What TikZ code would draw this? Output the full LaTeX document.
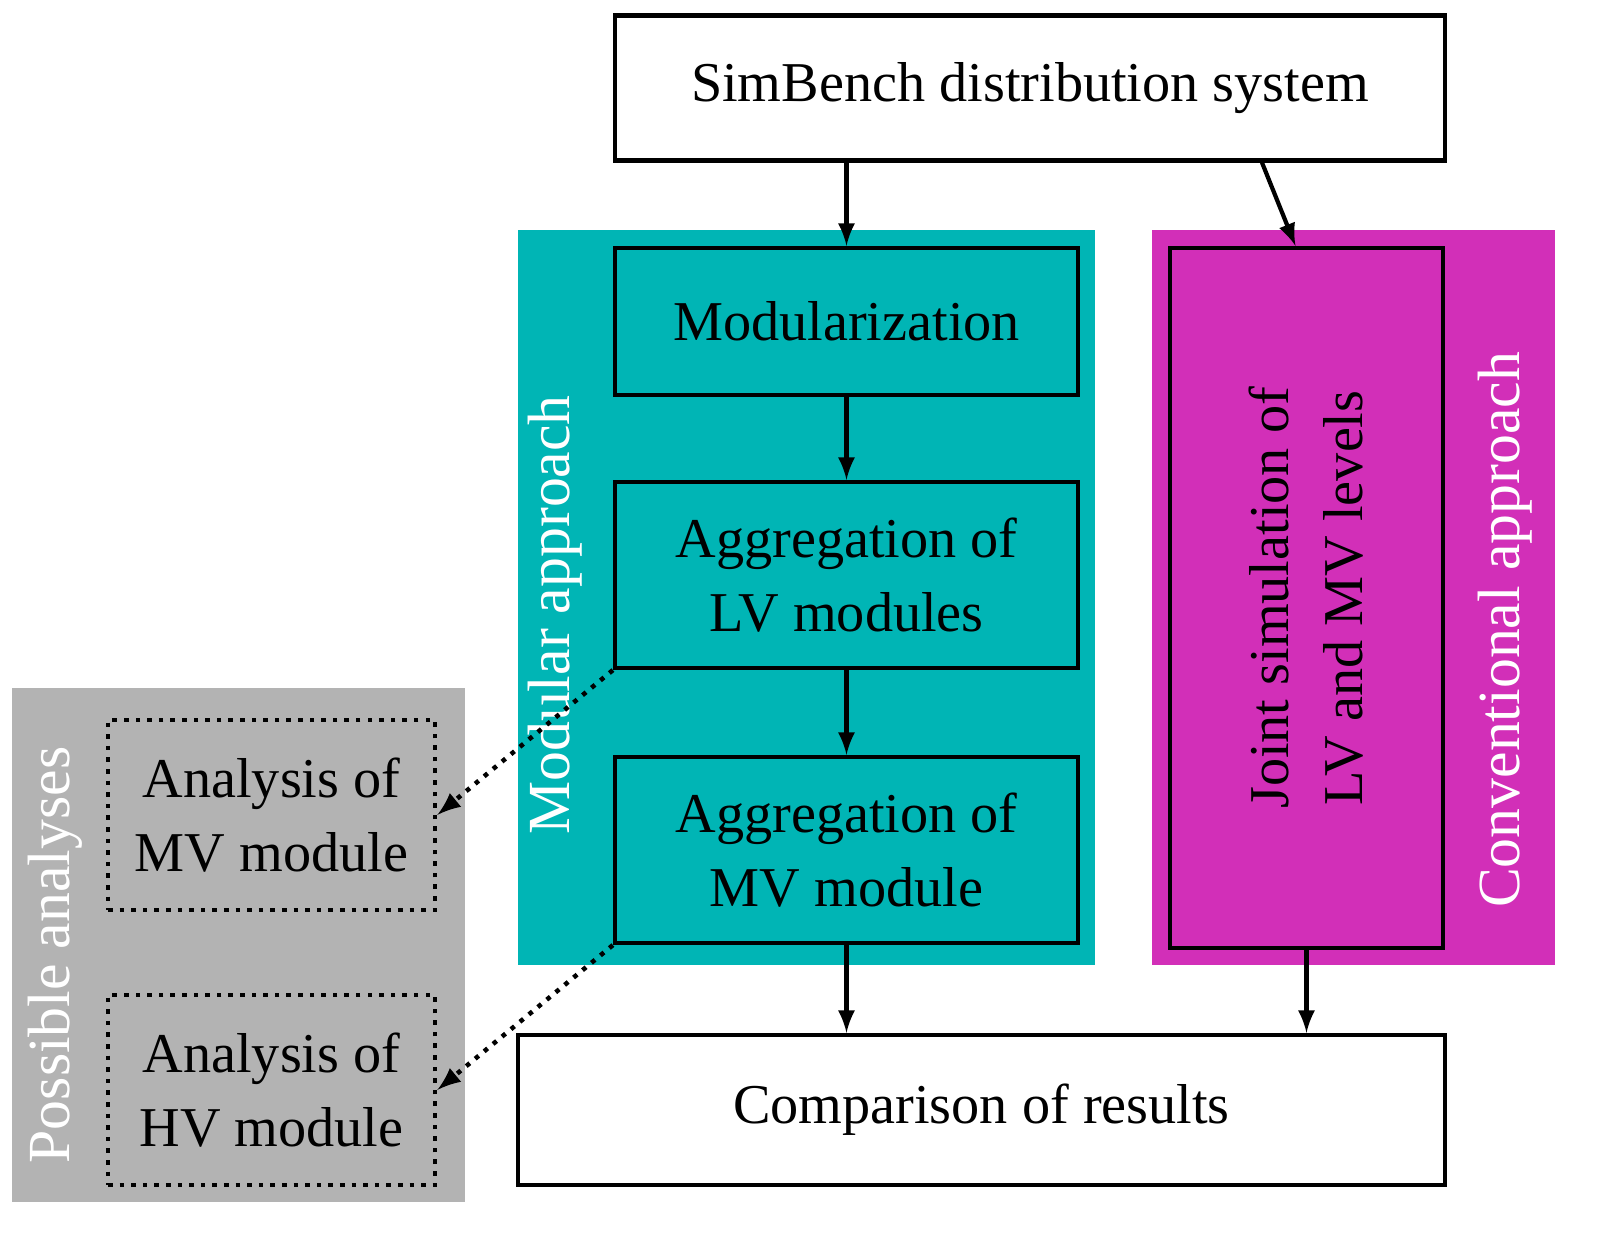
\documentclass[tikz,border=0pt]{standalone}
\usepackage{fontspec}
\setmainfont{Liberation Serif}
\usetikzlibrary{positioning}
\definecolor{modteal}{HTML}{00B5B5}
\definecolor{convmag}{HTML}{D22FB8}
\definecolor{possgrey}{HTML}{B3B3B3}
\tikzset{
  procbox/.style={draw=black, line width=1.2pt, align=center, inner sep=0pt, font=\fontsize{16}{21}\selectfont},
  ana/.style={draw=black, line width=1.3pt, dotted, align=center, inner sep=0pt, font=\fontsize{16}{21}\selectfont},
  area/.style={font=\fontsize{17}{20}\selectfont, text=white, rotate=90},
  flow/.style={-latex, line width=1.2pt},
  hint/.style={-latex, line width=1.3pt, dotted}
}
\begin{document}
\begin{tikzpicture}[x=1cm,y=1cm]
    \useasboundingbox (0,0) rectangle (15.98,12.41);
    %%% Background areas %%%
    \fill[modteal] (5.18,2.76) rectangle (10.95,10.11);
    \fill[convmag] (11.52,2.76) rectangle (15.55,10.11);
    \fill[possgrey] (0.12,0.39) rectangle (4.65,5.53);
    \node[area] (modlabel) at (5.55,6.26) {Modular approach};
    \node[area] (convlabel) at (15.05,6.11) {Conventional approach};
    \node[area] (posslabel) at (0.55,2.86) {Possible analyses};

    %%% Steps %%%
    \node[procbox, fill=white, minimum width=8.30cm, minimum height=1.45cm] (simbench) at (10.30,11.53) {SimBench distribution system};
    \node[procbox, fill=modteal, minimum width=4.63cm, minimum height=1.47cm] (modul) at (8.465,9.195) {Modularization};
    \node[procbox, fill=modteal, minimum width=4.63cm, minimum height=1.86cm] (agglv) at (8.465,6.66) {Aggregation of\\LV modules};
    \node[procbox, fill=modteal, minimum width=4.63cm, minimum height=1.86cm] (aggmv) at (8.465,3.91) {Aggregation of\\MV module};
    \node[procbox, fill=convmag, minimum width=2.73cm, minimum height=7.00cm] (joint) at (13.065,6.43) {};
    \node[rotate=90, align=center, font=\fontsize{16}{21}\selectfont] (jointtxt) at (joint.center) {Joint simulation of\\LV and MV levels};
    \node[procbox, fill=white, minimum width=9.27cm, minimum height=1.50cm] (compare) at (9.815,1.31) {Comparison of results};

    %%% Analyses %%%
    \node[ana, minimum width=3.27cm, minimum height=1.90cm] (anamv) at (2.715,4.26) {Analysis of\\MV module};
    \node[ana, minimum width=3.27cm, minimum height=1.90cm] (anahv) at (2.715,1.51) {Analysis of\\HV module};

    %%% Connectors %%%
    \draw[flow] (simbench.south -| modul.north) -- (modul.north);
    \draw[flow] ([xshift=2.32cm]simbench.south) -- ([xshift=-0.11cm]joint.north);
    \draw[flow] (modul) -- (agglv);
    \draw[flow] (agglv) -- (aggmv);
    \draw[flow] (aggmv.south) -- (aggmv.south |- compare.north);
    \draw[flow] (joint.south) -- (joint.south |- compare.north);
    \draw[hint] (agglv.south west) -- (anamv.east);
    \draw[hint] (aggmv.south west) -- (anahv.east);
\end{tikzpicture}
\end{document}
